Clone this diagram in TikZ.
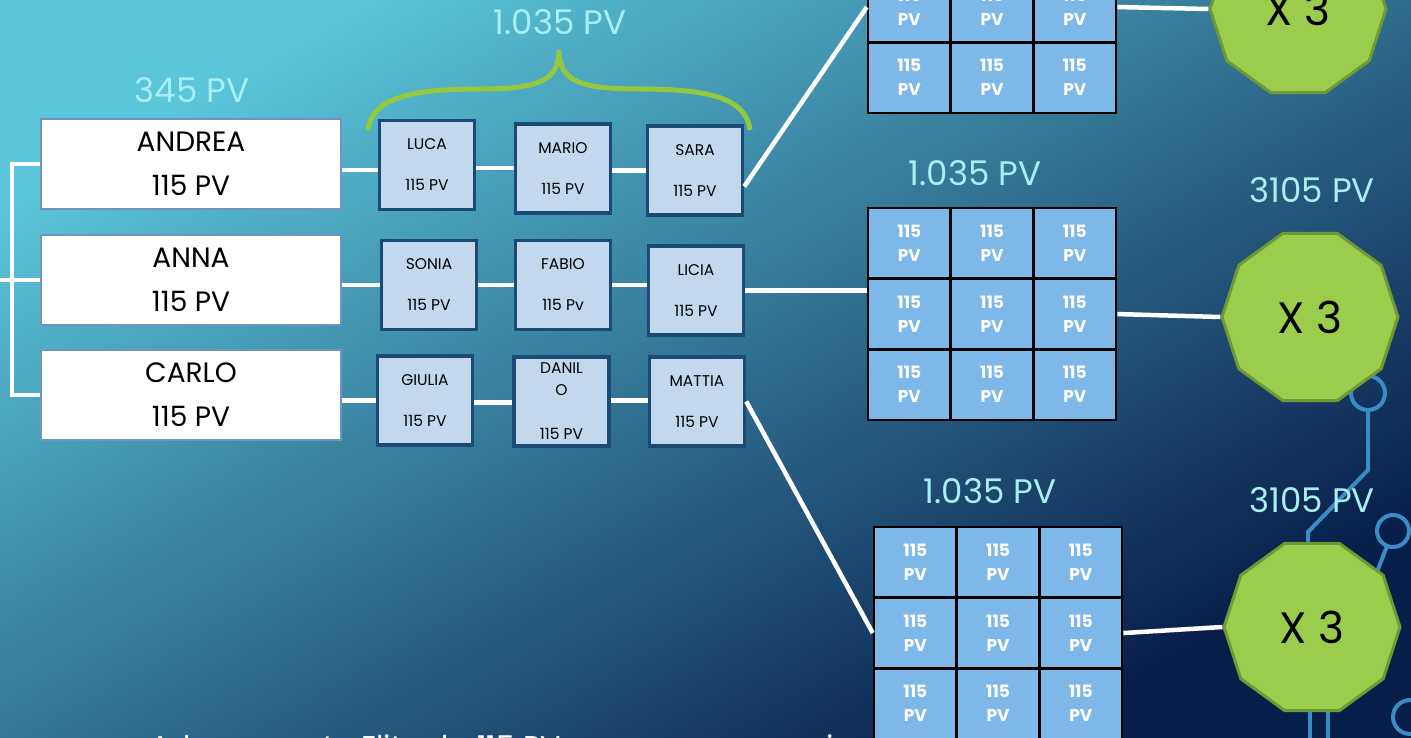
\documentclass[tikz,border=0pt]{standalone}
\usepackage{fontspec}
\setmainfont{Poppins}
\usetikzlibrary{shapes.geometric}
\definecolor{bgA}{HTML}{5BC5DA}
\definecolor{bgB}{HTML}{2A7CA2}
\definecolor{bgC}{HTML}{071D4A}
\definecolor{pale}{HTML}{A8EEF2}
\definecolor{wbord}{HTML}{6F95BF}
\definecolor{nfill}{HTML}{C3D8EC}
\definecolor{nbord}{HTML}{1B4A76}
\definecolor{cfill}{HTML}{7DB8E8}
\definecolor{gfill}{HTML}{9BCC4B}
\definecolor{gbord}{HTML}{6E9936}
\definecolor{circ}{HTML}{3A8DC4}
\definecolor{bracecol}{HTML}{93C83F}
\begin{document}
\begin{tikzpicture}[x=1pt,y=-1pt,
  topbox/.style={draw=wbord,line width=2.5pt,fill=white,minimum width=300pt,minimum height=90pt,inner sep=0pt,align=center,font=\fontsize{28}{44}\selectfont},
  namebox/.style={draw=nbord,line width=3.5pt,fill=nfill,minimum width=95pt,minimum height=89pt,inner sep=0pt,align=center,font=\fontsize{15.5}{20.5}\selectfont},
  cell/.style={draw=black,line width=2.5pt,fill=cfill,minimum width=82.7pt,minimum height=70.7pt,inner sep=0pt,align=center,text=white,font=\bfseries\fontsize{17}{24}\selectfont},
  link/.style={draw=white,line width=4.5pt},
  deca/.style={regular polygon,regular polygon sides=10,draw=gbord,line width=3pt,fill=gfill,minimum size=176pt,inner sep=0pt,font=\fontsize{44}{44}\selectfont},
  lbl/.style={text=pale,font=\fontsize{34}{34}\selectfont,inner sep=0pt},
  circline/.style={draw=circ,line width=4pt},
]
\useasboundingbox (0,0) rectangle (1411,738);
\shade[top color=bgA, middle color=bgB, bottom color=bgC, shading angle=30] (0,0) rectangle (1411,738);

% circuit decoration
\draw[circline] (1368,410) -- (1368,470) -- (1308,532) -- (1308,570);
\draw[circline] (1368,393) circle (17);
\draw[circline] (1393,531) circle (16);
\draw[circline] (1387,546) -- (1372,585);
\draw[circline] (1410,717) circle (17);
\draw[circline] (1310,690) -- (1310,745);
\draw[circline] (1328,690) -- (1328,745);

% bottom text (cut off by the lower edge)
\node[anchor=base west,text=white,font=\fontsize{30}{30}\selectfont,inner sep=0pt] (foot) at (150,757) {Ad un agente Elite da 115 PV saranno concessi};

% brace
\draw[draw=bracecol,line width=5pt] (368,130) .. controls (372,95) and (420,89) .. (480,89) .. controls (540,89) and (559,80) .. (559,50) .. controls (559,80) and (578,89) .. (638,89) .. controls (700,89) and (746,95) .. (750,130);

% first column
\node[topbox] (andrea) at (191,164) {ANDREA\\115 PV};
\node[topbox] (anna) at (191,280) {ANNA\\115 PV};
\node[topbox] (carlo) at (191,395) {CARLO\\115 PV};

% second column
\node[namebox] (luca) at (427,165) {LUCA\\[20.5pt]115 PV};
\node[namebox] (mario) at (563,168.5) {MARIO\\[20.5pt]115 PV};
\node[namebox] (sara) at (695,170.5) {SARA\\[20.5pt]115 PV};
\node[namebox] (sonia) at (429,285) {SONIA\\[20.5pt]115 PV};
\node[namebox] (fabio) at (563,285) {FABIO\\[20.5pt]115 Pv};
\node[namebox] (licia) at (696,290.5) {LICIA\\[20.5pt]115 PV};
\node[namebox] (giulia) at (425,400.5) {GIULIA\\[20.5pt]115 PV};
\node[namebox,font=\fontsize{15.5}{22}\selectfont] (danilo) at (561.5,401.5) {DANIL\\O\\[22pt]115 PV};
\node[namebox] (mattia) at (697,401.5) {MATTIA\\[20.5pt]115 PV};

% grids
\foreach \g/\gx/\gy in {1/868/-99, 2/868/208, 3/874/527} {
  \foreach \r in {1,2,3} {
    \foreach \c in {1,2,3} {
      \node[cell] (g\g-\r-\c) at ({\gx+41.35+(\c-1)*82.7},{\gy+35.35+(\r-1)*70.7}) {115\\PV};
    }
  }
}

% decagons
\node[deca] (d1) at (1298,9) {X 3};
\node[deca] (d2) at (1310,317) {X 3};
\node[deca] (d3) at (1312,627) {X 3};

% left bracket
\coordinate (bx) at (12,280);
\coordinate (lft) at (0,280);
\draw[link,line width=4pt] (andrea.west) -- (andrea.west -| bx) -- (carlo.west -| bx) -- (carlo.west);
\draw[link,line width=4pt] (lft) -- (anna.west);

% links
\draw[link] ([yshift=-5pt]luca.west -| andrea.east) -- ([yshift=-5pt]luca.west);
\draw[link] ([yshift=-3pt]luca.east) -- ([yshift=-3pt]luca.east -| mario.west);
\draw[link] (mario.east |- sara.west) -- (sara.west);
\draw[link] (sonia.west -| anna.east) -- (sonia.west);
\draw[link] (sonia.east) -- (fabio.west);
\draw[link] (fabio.east) -- (fabio.east -| licia.west);
\draw[link] (giulia.west -| carlo.east) -- (giulia.west);
\draw[link] ([yshift=-2pt]giulia.east) -- ([yshift=-2pt]giulia.east -| danilo.west);
\draw[link] ([yshift=1pt]danilo.east) -- ([yshift=1pt]danilo.east -| mattia.west);
\draw[link] ([yshift=-16pt]sara.east) -- (g1-2-1.west);
\draw[link] (licia.east) -- (licia.east -| g2-2-1.west);
\draw[link] (mattia.east) -- (g3-2-1.west);
\draw[link] (g1-2-3.east) -- (d1.west);
\draw[link] (g2-2-3.east) -- (d2.west);
\draw[link] (g3-2-3.east) -- (d3.west);

% labels
\node[lbl] (l345) at (192,90) {345 PV};
\node[lbl] (l1035a) at (560,22) {1.035 PV};
\node[lbl] (l1035b) at (975,173) {1.035 PV};
\node[lbl] (l1035c) at (990,491) {1.035 PV};
\node[lbl] (l3105a) at (1312,190) {3105 PV};
\node[lbl] (l3105b) at (1312,500) {3105 PV};
\end{tikzpicture}
\end{document}
